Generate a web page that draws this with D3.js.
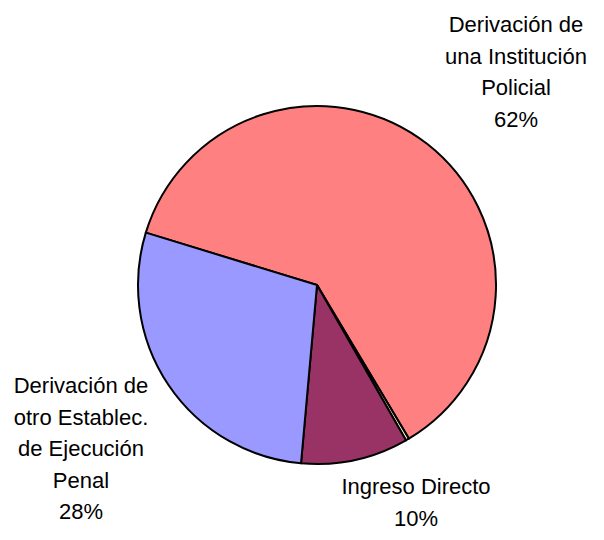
<!DOCTYPE html>
<html>
<head>
<meta charset="utf-8">
<script src="https://cdn.jsdelivr.net/npm/d3@7"></script>
<style>
  html, body { margin: 0; padding: 0; background: #fff; }
  svg { display: block; }
</style>
</head>
<body>
<div id="chart"></div>
<script>
// Data
const categories = ["Derivación de una Institución Policial", "Otro", "Ingreso Directo", "Derivación de otro Establec. de Ejecución Penal"];
const values     = [61.7, 0.3, 9.7, 28.3];
const pctLabels  = ["62%", "", "10%", "28%"];
const labelLines = [
  ["Derivación de", "una Institución", "Policial"],
  [],
  ["Ingreso Directo"],
  ["Derivación de", "otro Establec.", "de Ejecución", "Penal"]
];
const colors = ["#FF8080", "#FFFFCC", "#993366", "#9999FF"];

const W = 604, H = 540;
const cx = 317, cy = 285, R = 179;

const svg = d3.select("#chart").append("svg")
  .attr("width", W).attr("height", H);

const g = svg.append("g").attr("transform", `translate(${cx},${cy})`);

const start = -73 * Math.PI / 180;
const pie = d3.pie().sort(null).startAngle(start).endAngle(start + 2 * Math.PI);
const arc = d3.arc().innerRadius(0).outerRadius(R);

const arcs = pie(values);

g.selectAll("path.slice").data(arcs).join("path")
  .attr("class", "slice")
  .attr("d", arc)
  .attr("fill", (d, i) => colors[i])
  .attr("stroke", "#000")
  .attr("stroke-width", 2)
  .attr("stroke-linejoin", "round");

// Labels (centre x, first baseline), relative to the page
const labelPos = [[516, 32], null, [416, 494], [81, 393]];
const lineH = 31.6;

arcs.forEach((d, i) => {
  if (!labelPos[i]) return;
  const lines = labelLines[i].concat([pctLabels[i]]);
  const t = svg.append("text")
    .attr("text-anchor", "middle")
    .attr("font-family", "'Liberation Sans', Arial, sans-serif")
    .attr("font-size", 22)
    .attr("fill", "#000");
  lines.forEach((s, k) => {
    t.append("tspan")
      .attr("x", labelPos[i][0])
      .attr("y", labelPos[i][1] + k * lineH)
      .text(s);
  });
});
</script>
</body>
</html>
